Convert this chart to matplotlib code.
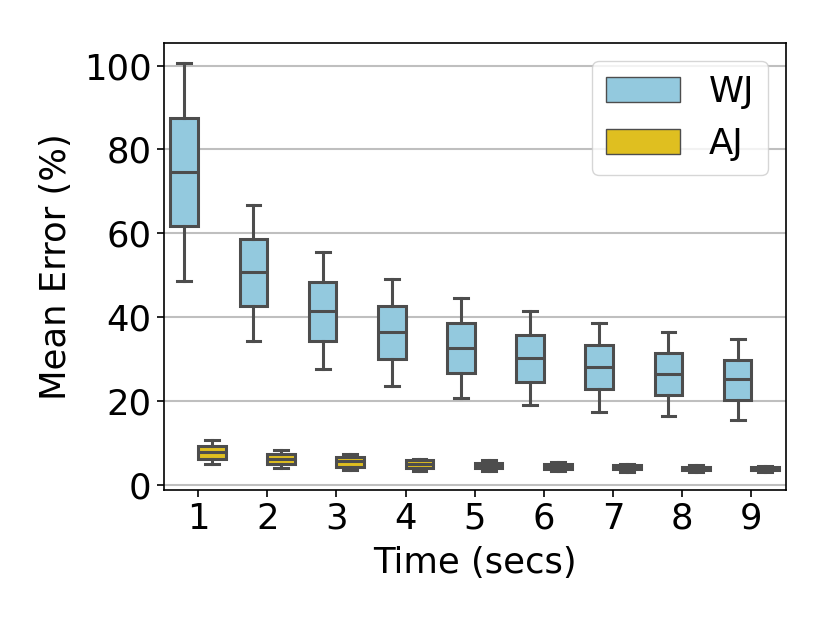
import matplotlib
matplotlib.use('Agg')
import matplotlib.pyplot as plt
from matplotlib.patches import Patch

# Time (secs) categories
times = [1, 2, 3, 4, 5, 6, 7, 8, 9]

# WJ box stats (%)
wj_low = [48.6, 34.3, 27.6, 23.5, 20.7, 18.9, 17.4, 16.4, 15.3]
wj_q1 = [61.6, 42.5, 34.3, 30.0, 26.5, 24.5, 22.7, 21.4, 20.2]
wj_med = [74.5, 50.7, 41.4, 36.3, 32.6, 30.2, 28.0, 26.3, 25.1]
wj_q3 = [87.5, 58.6, 48.4, 42.6, 38.5, 35.8, 33.2, 31.4, 29.8]
wj_high = [100.5, 66.8, 55.4, 49.0, 44.4, 41.3, 38.6, 36.4, 34.7]

# AJ box stats (%)
aj_low = [4.9, 3.9, 3.5, 3.3, 3.3, 3.2, 3.1, 3.0, 2.9]
aj_q1 = [6.1, 4.9, 4.3, 3.9, 3.9, 3.8, 3.7, 3.5, 3.4]
aj_med = [7.8, 6.2, 5.7, 4.8, 4.5, 4.3, 4.1, 3.9, 3.8]
aj_q3 = [9.3, 7.4, 6.5, 5.8, 5.2, 4.9, 4.6, 4.3, 4.1]
aj_high = [10.6, 8.2, 7.2, 6.2, 5.9, 5.4, 5.0, 4.7, 4.5]

wj_color = '#93c9de'
aj_color = '#dfbf20'
edge = '#4d4d4d'
fs = 25.5


def make_stats(low, q1, med, q3, high):
    out = []
    for a, b, c, d, e in zip(low, q1, med, q3, high):
        out.append({'whislo': a, 'q1': b, 'med': c, 'q3': d, 'whishi': e, 'fliers': []})
    return out


fig = plt.figure(figsize=(8.3, 6.23), dpi=100)
ax = fig.add_axes([0.197, 0.2135, 0.75, 0.717])

ax.yaxis.grid(True, color='#bfbfbf', linewidth=1.5, zorder=0)
ax.set_axisbelow(True)

lw = 2.2
line_kw = dict(color=edge, linewidth=lw)
for stats, color, off in [(make_stats(wj_low, wj_q1, wj_med, wj_q3, wj_high), wj_color, -0.2),
                          (make_stats(aj_low, aj_q1, aj_med, aj_q3, aj_high), aj_color, 0.2)]:
    pos = [i + off for i in range(len(times))]
    ax.bxp(stats, positions=pos, widths=0.4, patch_artist=True, showfliers=False,
           boxprops=dict(facecolor=color, edgecolor=edge, linewidth=lw),
           medianprops=line_kw, whiskerprops=line_kw, capprops=line_kw,
           manage_ticks=False, zorder=3)

ax.set_xlim(-0.5, 8.5)
ax.set_ylim(-1.3, 105.3)
ax.set_xticks(range(len(times)))
ax.set_xticklabels([str(t) for t in times])
ax.set_yticks([0, 20, 40, 60, 80, 100])
ax.tick_params(labelsize=fs, length=5, width=1.2)
for s in ax.spines.values():
    s.set_color('black')
    s.set_linewidth(1.2)

ax.set_xlabel('Time (secs)', fontsize=fs, labelpad=7)
ax.set_ylabel('Mean Error (%)', fontsize=fs, labelpad=8)

handles = [Patch(facecolor=wj_color, edgecolor=edge, label='WJ'),
           Patch(facecolor=aj_color, edgecolor=edge, label='AJ')]
ax.legend(handles=handles, loc='upper right', fontsize=fs, handlelength=2.1)

fig.savefig('out.png', dpi=100)
